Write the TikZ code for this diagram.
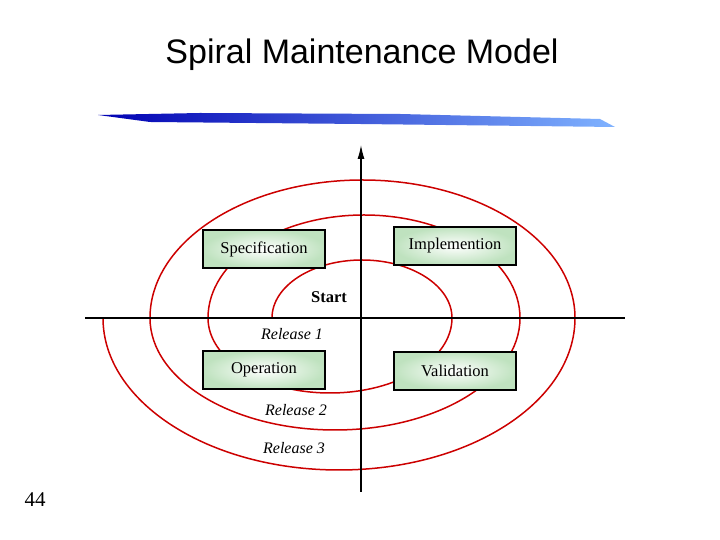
\documentclass[tikz,border=0pt]{standalone}
\usepackage{fontspec}
\usetikzlibrary{arrows.meta}
\setmainfont{Liberation Serif}
\newfontfamily\titlefont{Liberation Sans}
\begin{document}
\begin{tikzpicture}[x=1pt,y=1pt,
  box/.style={draw=black,line width=1.3pt,inner color=white,outer color=green!55!black!25,minimum width=122pt,minimum height=38pt,font=\fontsize{16.5}{18}\selectfont},
  sp/.style={draw=red!80!black,line width=1.5pt},
  lab/.style={font=\fontsize{16}{18}\selectfont\itshape}]
\useasboundingbox (0,0) rectangle (720,540);
\node (title) at (362,485) {\titlefont\fontsize{34}{38}\selectfont Spiral Maintenance Model};
\shade[left color=blue!70!black, right color=cyan!40!blue!50] (98,425) -- (150,418) -- (360,416) -- (615,413) -- (600,421) -- (400,426) -- (200,427) -- cycle;
% spiral
\draw[sp] (272,222) arc[start angle=180,end angle=0,x radius=90,y radius=58]
  arc[start angle=0,end angle=-180,x radius=122,y radius=75]
  arc[start angle=180,end angle=0,x radius=156,y radius=103]
  arc[start angle=0,end angle=-180,x radius=185,y radius=112]
  arc[start angle=180,end angle=0,x radius=212.5,y radius=138]
  arc[start angle=0,end angle=-180,x radius=236,y radius=152];
% axes
\coordinate (xl) at (85,222); \coordinate (xr) at (625,222);
\coordinate (yb) at (361,48); \coordinate (yt) at (361,395);
\draw[line width=1.2pt] (xl) -- (xr);
\draw[line width=1.2pt,-{Latex[length=14pt,width=7pt]}] (yb) -- (yt);
\node[box] (spec) at (264,291) {Specification};
\node[box] (impl) at (455,294) {Implemention};
\node[box] (oper) at (264,170) {Operation};
\node[box] (vali) at (455,169) {Validation};
\node[font=\fontsize{16.5}{18}\selectfont\bfseries] (start) at (329,243) {Start};
\node[lab] (r1) at (292,206) {Release 1};
\node[lab] (r2) at (296,130) {Release 2};
\node[lab] (r3) at (294,92) {Release 3};
\node[font=\fontsize{21}{24}\selectfont] (num) at (35,40) {44};
\end{tikzpicture}
\end{document}
